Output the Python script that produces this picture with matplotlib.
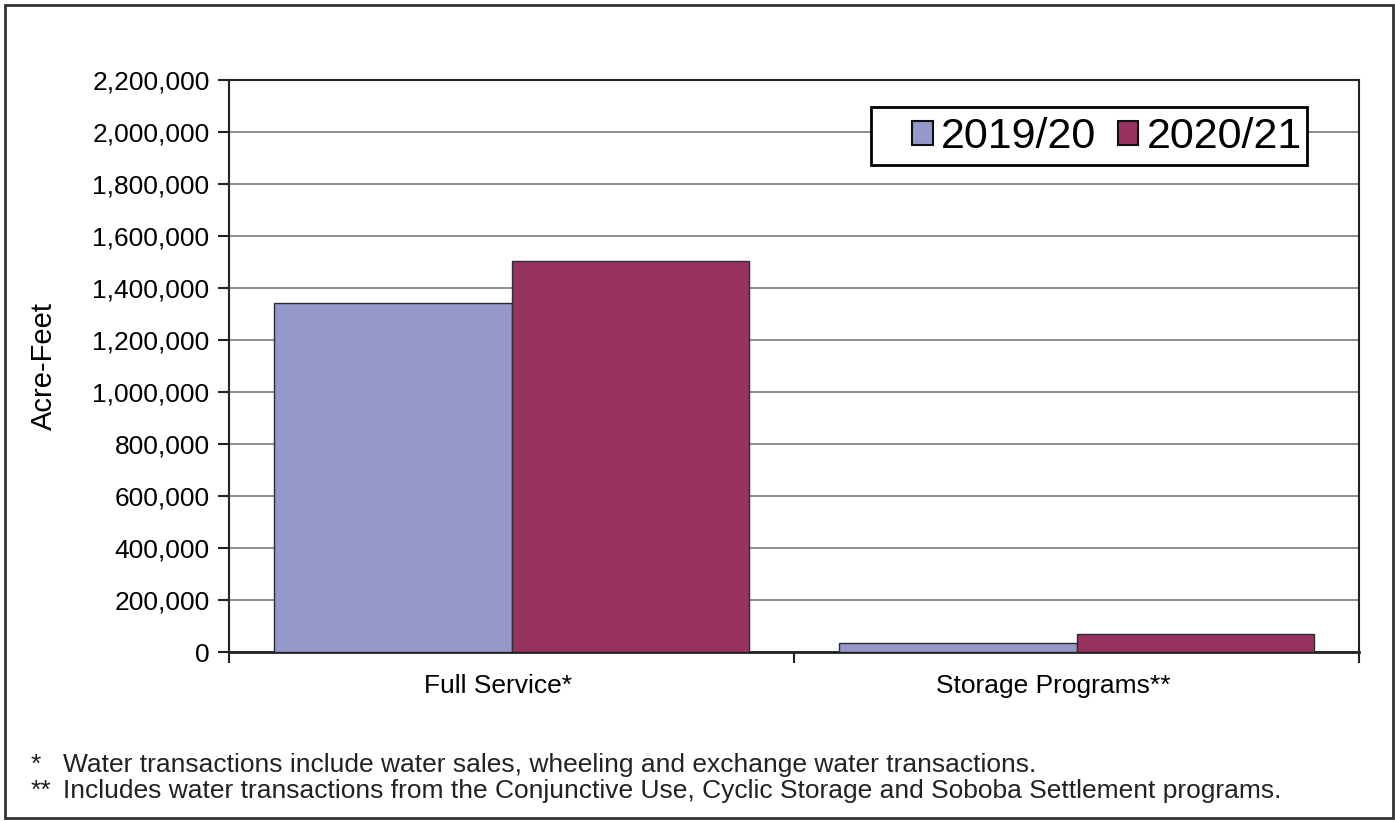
import matplotlib.pyplot as plt
from matplotlib.patches import Rectangle
from matplotlib.ticker import FuncFormatter, MultipleLocator
from matplotlib.transforms import ScaledTranslation

plt.rcParams['font.family'] = ['Liberation Sans', 'DejaVu Sans']

categories = ['Full Service*', 'Storage Programs**']
years = ['2019/20', '2020/21']
acre_feet_1920 = [1341000, 35000]
acre_feet_2021 = [1505000, 69000]
colors = ['#9598CA', '#98335F']
notes = [
    ('*', 'Water transactions include water sales, wheeling and exchange water transactions.'),
    ('**', 'Includes water transactions from the Conjunctive Use, Cyclic Storage and Soboba Settlement programs.'),
]

W, H = 1395, 821
fig = plt.figure(figsize=(W / 100, H / 100), dpi=100)
ax = fig.add_axes([229 / W, 1 - 652 / H, 1130 / W, 572 / H])

bar_w = 0.42
xs = range(len(categories))
for off, vals, col, lab in [(-bar_w / 2, acre_feet_1920, colors[0], years[0]),
                            (bar_w / 2, acre_feet_2021, colors[1], years[1])]:
    ax.bar([x + off for x in xs], vals, width=bar_w, color=col,
           edgecolor='#2b2b33', linewidth=1.0, label=lab, zorder=3)

ax.set_xlim(-0.5, len(categories) - 0.5)
ax.set_ylim(0, 2200000)
ax.yaxis.set_major_locator(MultipleLocator(200000))
ax.yaxis.set_major_formatter(FuncFormatter(lambda v, p: f'{int(v):,}'))
ax.grid(axis='y', color='#7a7a7a', linewidth=1.2, zorder=0)

# category separators as major ticks, labels on minor ticks
ax.set_xticks([-0.5, 0.5, 1.5])
ax.set_xticklabels([])
ax.set_xticks(list(xs), minor=True)
ax.set_xticklabels(categories, minor=True)
ax.tick_params(axis='x', which='major', length=8, width=1.5, direction='out', color='#222222')
ax.tick_params(axis='x', which='minor', length=0, pad=16, labelsize=19)
ax.tick_params(axis='y', length=8, width=1.5, direction='out', color='#222222', labelsize=19, pad=6)
# nudge category labels a little to the left
for lbl, dx in zip(ax.get_xticklabels(minor=True), [-13, -23]):
    lbl.set_transform(lbl.get_transform() + ScaledTranslation(dx / 100, 0, fig.dpi_scale_trans))

for s in ax.spines.values():
    s.set_color('#222222')
    s.set_linewidth(1.5)
ax.spines['bottom'].set_linewidth(2)

ax.set_ylabel('Acre-Feet', fontsize=21)
ax.yaxis.set_label_coords((58 - 229) / 1130, 0.5)

# legend box is wider on the left than the entries need
ax.add_patch(Rectangle((871 / W, 1 - 165 / H), 436 / W, 58 / H, transform=fig.transFigure,
                       facecolor='white', edgecolor='black', linewidth=2, zorder=4, clip_on=False))
leg = ax.legend(loc='center right', bbox_to_anchor=(1302 / W, 1 - 137 / H),
                bbox_transform=fig.transFigure, ncol=2, fontsize=31,
                frameon=False, handlelength=0.47, handleheight=0.47, handletextpad=0.2,
                columnspacing=0.5, borderpad=0, borderaxespad=0)
leg.set_zorder(5)
for h in leg.legend_handles:
    h.set_edgecolor('#111111')
    h.set_linewidth(1.5)

for i, (mark, txt) in enumerate(notes):
    y = 1 - (765 + 26 * i) / H
    fig.text(31 / W, y, mark, fontsize=19, va='center', ha='left', color='#222222')
    fig.text(63 / W, y, txt, fontsize=19, va='center', ha='left', color='#222222')

fig.patches.append(Rectangle((5 / W, 3 / H), 1388 / W, 813 / H, transform=fig.transFigure,
                             fill=False, edgecolor='#333333', linewidth=2))

fig.savefig('out.png', dpi=100)
